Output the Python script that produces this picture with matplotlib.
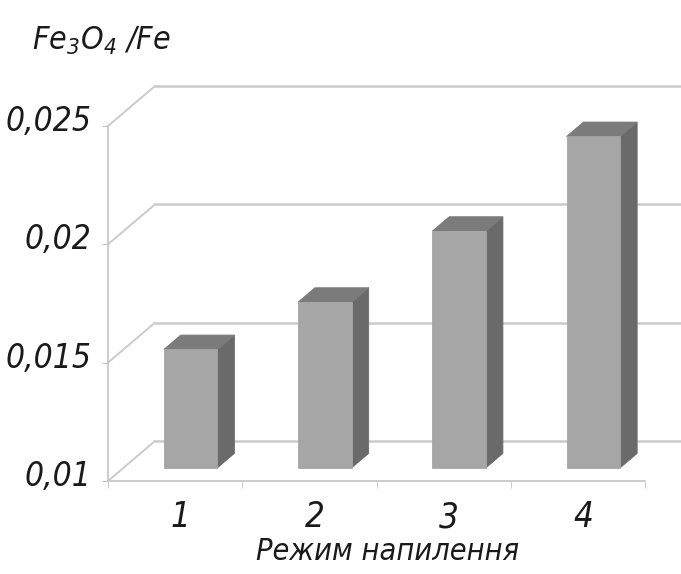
import matplotlib
matplotlib.use("Agg")
import matplotlib.pyplot as plt
from matplotlib.patches import Polygon
from matplotlib.transforms import ScaledTranslation

# data
modes = ["1", "2", "3", "4"]
ratio = [0.015, 0.017, 0.020, 0.024]
yticks = [0.01, 0.015, 0.02, 0.025]
ytick_labels = ["0,01", "0,015", "0,02", "0,025"]

FONT = ["Liberation Sans Narrow", "DejaVu Sans Condensed", "DejaVu Sans"]
TXT = "#1a1a1a"
GRID = "#cbcbcb"
FRONT = "#a6a6a6"
SIDE = "#6a6a6a"
TOP = "#7b7b7b"

plt.rcParams["font.family"] = FONT
plt.rcParams["font.stretch"] = "condensed"

fig = plt.figure(figsize=(6.81, 5.74), dpi=100)
ax = fig.add_axes([108 / 681, 93 / 574, 537 / 681, 355 / 574])
ax.set_xlim(0.5, 4.5)
ax.set_ylim(0.01, 0.025)

# depth of the pseudo-3d box, in data units
DX = 0.35
DY = 0.00169


def shift(x, y, d):
    return x + DX * d, y + DY * d


# left wall diagonals and back wall gridlines
for v in yticks:
    xb, yb = shift(0.5, v, 1)
    ax.plot([0.5, xb], [v, yb], color=GRID, lw=1.4, clip_on=False, zorder=1)
    ax.plot([xb, 5.3], [yb, yb], color=GRID, lw=1.8, clip_on=False, zorder=1)

# bars as boxes sitting in the middle of the depth
half = 0.2
d0, d1 = 0.33, 0.69
base = yticks[0]
for i, v in enumerate(ratio):
    c = i + 1
    front = [shift(c - half, base, d0), shift(c + half, base, d0),
             shift(c + half, v, d0), shift(c - half, v, d0)]
    top = [shift(c - half, v, d0), shift(c + half, v, d0),
           shift(c + half, v, d1), shift(c - half, v, d1)]
    side = [shift(c + half, base, d0), shift(c + half, base, d1),
            shift(c + half, v, d1), shift(c + half, v, d0)]
    for pts, col in [(side, SIDE), (top, TOP), (front, FRONT)]:
        ax.add_patch(Polygon(pts, closed=True, facecolor=col, edgecolor=col,
                             lw=0.6, clip_on=False, zorder=3))

for s in ["top", "right"]:
    ax.spines[s].set_visible(False)
for s in ["left", "bottom"]:
    ax.spines[s].set_color("#c4c4c4")
    ax.spines[s].set_linewidth(1.2)

ax.set_yticks(yticks)
ax.set_yticklabels(ytick_labels)
ax.set_xticks(range(1, 5))
ax.set_xticklabels(modes)
ax.set_xticks([0.5, 1.5, 2.5, 3.5, 4.5], minor=True)
ax.tick_params(axis="y", length=4, color="#c4c4c4", pad=8)
ax.tick_params(axis="x", which="major", length=0, pad=14)
ax.tick_params(axis="x", which="minor", length=5, color="#c4c4c4")

for lab in ax.get_yticklabels():
    lab.set_fontstyle("italic")
    lab.set_fontsize(24)
    lab.set_color(TXT)
    lab.set_transform(lab.get_transform() + ScaledTranslation(0, 8 / 100, fig.dpi_scale_trans))
for lab in ax.get_xticklabels():
    lab.set_fontstyle("italic")
    lab.set_fontsize(25)
    lab.set_color(TXT)
    lab.set_transform(lab.get_transform() + ScaledTranslation(5 / 100, 0, fig.dpi_scale_trans))

fig.text(388 / 681, 1 - 552 / 574, "Режим напилення", ha="center", va="center",
         fontsize=22, fontstyle="italic", color=TXT)
fig.text(32 / 681, 1 - 50 / 574, r"$\mathregular{Fe_3O_4}$ /Fe", ha="left", va="baseline",
         fontsize=23, fontstyle="italic", color=TXT)

fig.savefig("out.png", dpi=100)
